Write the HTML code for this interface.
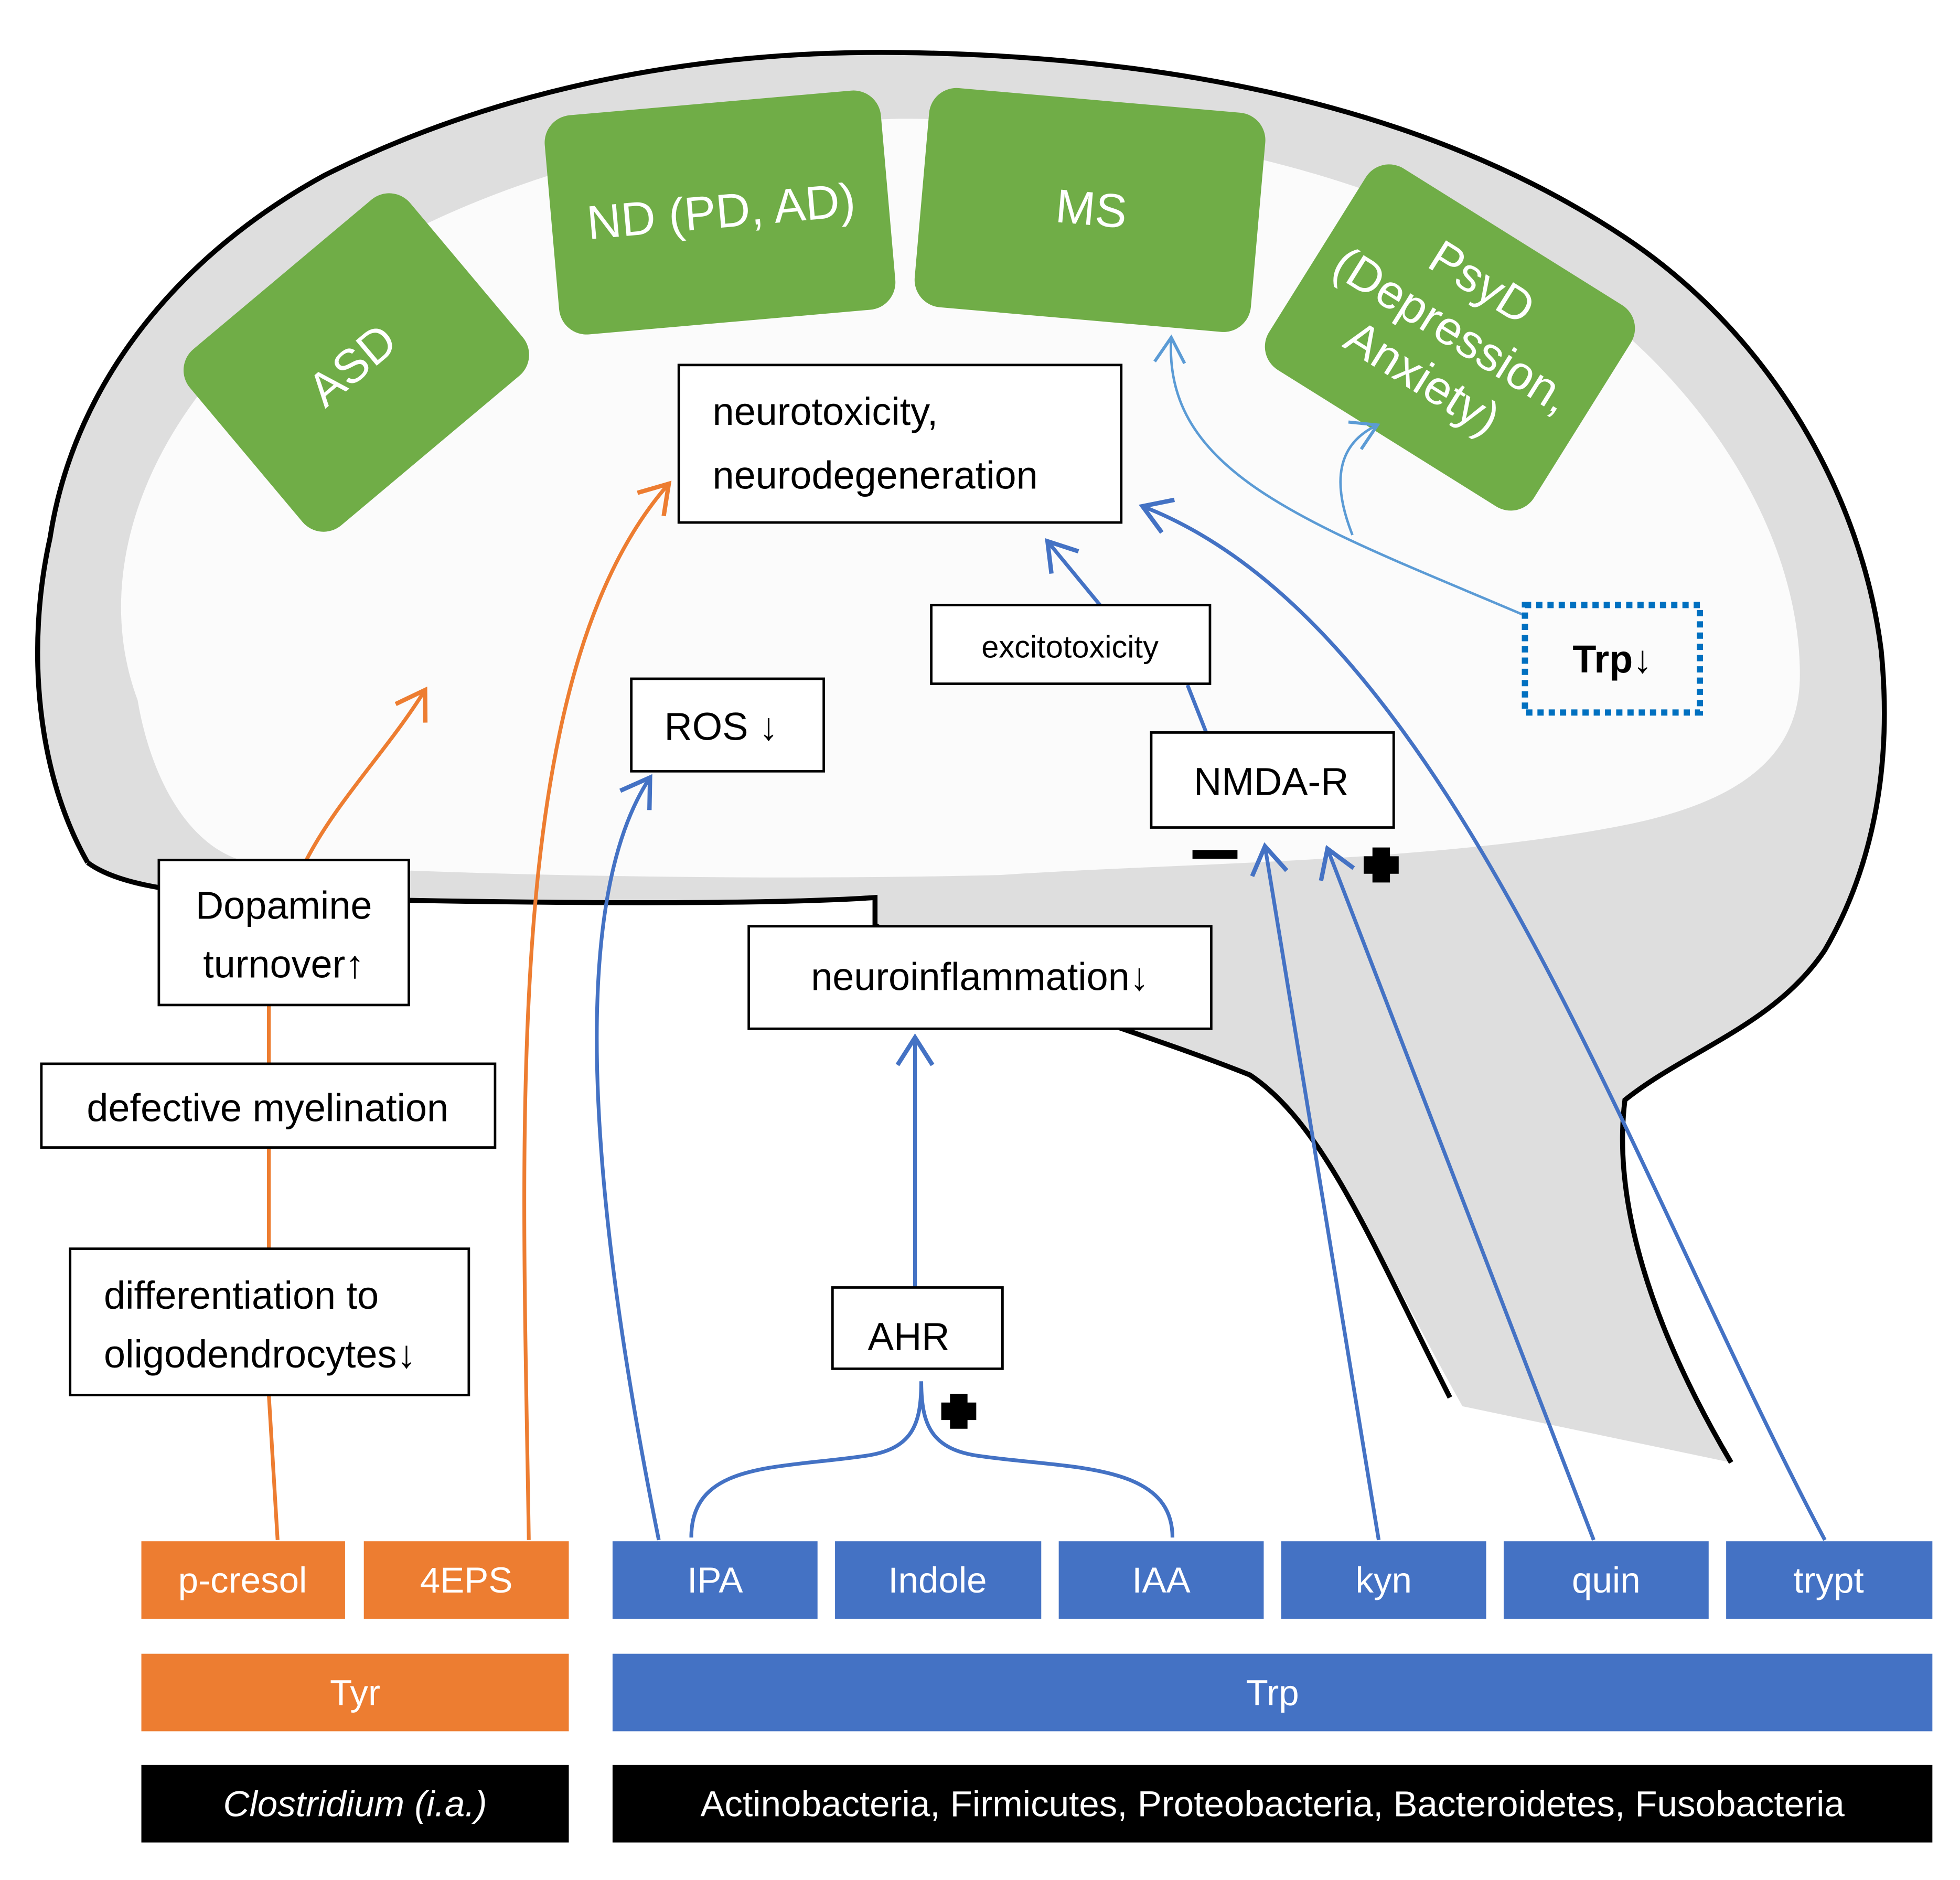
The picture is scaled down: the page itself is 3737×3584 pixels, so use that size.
<!DOCTYPE html>
<html><head><meta charset="utf-8"><style>
html,body{margin:0;padding:0;background:#fff;}
svg{display:block;}
text{font-family:"Liberation Sans",sans-serif;}
</style></head><body>
<svg width="3737" height="3584" viewBox="0 0 1568 1504" xmlns="http://www.w3.org/2000/svg">
<defs>
<marker id="ao" markerWidth="10" markerHeight="10" refX="8" refY="5" orient="auto" markerUnits="userSpaceOnUse" viewBox="0 0 10 10" overflow="visible"><polyline points="-14,-9 8,5 -14,19" transform="translate(0,0) scale(1)" fill="none" stroke="#ed7d31" stroke-width="3.5" stroke-linejoin="miter"/></marker>
<marker id="ab" markerWidth="10" markerHeight="10" refX="8" refY="5" orient="auto" markerUnits="userSpaceOnUse" viewBox="0 0 10 10" overflow="visible"><polyline points="-14,-9 8,5 -14,19" fill="none" stroke="#4472c4" stroke-width="3.5"/></marker>
<marker id="al" markerWidth="10" markerHeight="10" refX="8" refY="5" orient="auto" markerUnits="userSpaceOnUse" viewBox="0 0 10 10" overflow="visible"><polyline points="-12,-7 8,5 -12,17" fill="none" stroke="#5b9bd5" stroke-width="2.5"/></marker>
</defs>
<rect width="1568" height="1504" fill="#fff"/>
<!-- brain -->
<path d="M70,690 C30,620 20,520 40,430 C60,300 150,200 260,140 C400,70 560,40 720,42 C950,45 1150,90 1300,190 C1420,270 1490,400 1505,520 C1515,620 1495,700 1460,760 C1420,820 1350,840 1300,880 C1290,960 1320,1060 1385,1170 L1170,1125 C1100,1000 1060,900 1000,860 C900,820 780,790 700,740 L700,718 C600,725 350,722 200,717 C130,714 90,705 70,690 Z" fill="#dedede"/>
<path d="M110,560 C80,480 100,380 180,290 C300,170 500,100 720,95 C950,95 1150,150 1280,250 C1380,330 1440,440 1440,540 C1440,600 1400,640 1300,660 C1150,690 950,690 800,700 C600,705 350,700 200,690 C150,680 120,620 110,560 Z" fill="#fbfbfb"/>
<path d="M70,690 C30,620 20,520 40,430 C60,300 150,200 260,140 C400,70 560,40 720,42 C950,45 1150,90 1300,190 C1420,270 1490,400 1505,520 C1515,620 1495,700 1460,760 C1420,820 1350,840 1300,880 C1290,960 1320,1060 1385,1170" fill="none" stroke="#000" stroke-width="4"/>
<path d="M1160,1118 C1100,1000 1060,900 1000,860 C900,820 780,790 700,740 L700,718 C600,725 350,722 200,717 C130,714 90,705 70,690" fill="none" stroke="#000" stroke-width="4"/>
<!-- green boxes -->
<g fill="#70ad47">
<rect x="-115" y="-92" width="230" height="184" rx="22" transform="translate(285,290) rotate(-40)"/>
<rect x="-135" y="-88" width="270" height="176" rx="22" transform="translate(576,170) rotate(-5)"/>
<rect x="-135" y="-88" width="270" height="176" rx="22" transform="translate(872,168) rotate(5)"/>
<rect x="-125" y="-95" width="250" height="190" rx="22" transform="translate(1160,270) rotate(32)"/>
</g>
<g fill="#fff" font-size="38" text-anchor="middle">
<text transform="translate(290,302) rotate(-40)">ASD</text>
<text transform="translate(578,182) rotate(-5)">ND (PD, AD)</text>
<text transform="translate(872,180) rotate(5)">MS</text>
<g transform="translate(1155,275) rotate(32)"><text y="-45">PsyD</text><text y="0">(Depression,</text><text y="45">Anxiety)</text></g>
</g>
<!-- arrows -->
<g fill="none" stroke-width="3">
<path d="M222,1232 L215,1116 M215,999 L215,918 M215,851 L215,804" stroke="#ed7d31"/>
<path d="M245,688 C270,640 310,600 340,552" stroke="#ed7d31" marker-end="url(#ao)"/>
<path d="M423,1232 C418,900 400,540 535,387" stroke="#ed7d31" marker-end="url(#ao)"/>
<path d="M527,1232 C470,950 455,720 520,622" stroke="#4472c4" marker-end="url(#ab)"/>
<path d="M553,1230 C553,1170 620,1175 690,1165 C730,1160 737,1140 737,1105 C737,1140 745,1160 785,1165 C855,1175 938,1170 938,1230" stroke="#4472c4"/>
<path d="M732,1030 L732,830" stroke="#4472c4" marker-end="url(#ab)"/>
<path d="M1103,1232 L1012,677" stroke="#4472c4" marker-end="url(#ab)"/>
<path d="M1275,1232 L1062,679" stroke="#4472c4" marker-end="url(#ab)"/>
<path d="M1460,1232 C1300,930 1160,500 914,405" stroke="#4472c4" marker-end="url(#ab)"/>
<path d="M965,586 L950,548" stroke="#4472c4"/>
<path d="M880,484 L838,433" stroke="#4472c4" marker-end="url(#ab)"/>
<path d="M1219,492 C1050,420 930,380 937,270" stroke="#5b9bd5" stroke-width="2" marker-end="url(#al)"/>
<path d="M1082,428 C1065,385 1070,355 1102,340" stroke="#5b9bd5" stroke-width="2" marker-end="url(#al)"/>
</g>
<path d="M760,1115 h14 v7 h7 v14 h-7 v7 h-14 v-7 h-7 v-14 h7z" fill="#000"/>
<path d="M1098,678 h14 v7 h7 v14 h-7 v7 h-14 v-7 h-7 v-14 h7z" fill="#000"/>
<rect x="954" y="680" width="36" height="7" fill="#000"/>
<!-- white boxes -->
<g fill="#fff" stroke="#000" stroke-width="2">
<rect x="543" y="292" width="354" height="126"/>
<rect x="745" y="484" width="223" height="63"/>
<rect x="505" y="543" width="154" height="74"/>
<rect x="921" y="586" width="194" height="76"/>
<rect x="127" y="688" width="200" height="116"/>
<rect x="33" y="851" width="363" height="67"/>
<rect x="599" y="741" width="370" height="82"/>
<rect x="56" y="999" width="319" height="117"/>
<rect x="666" y="1030" width="136" height="65"/>
</g>
<rect x="1220" y="484" width="140" height="86" fill="none" stroke="#0070c0" stroke-width="5" stroke-dasharray="5,4"/>
<g font-size="31" fill="#000">
<text x="570" y="340">neurotoxicity,</text>
<text x="570" y="391">neurodegeneration</text>
<text x="856" y="526" font-size="25" text-anchor="middle">excitotoxicity</text>
<text x="577" y="592" text-anchor="middle">ROS ↓</text>
<text x="1017" y="636" text-anchor="middle">NMDA-R</text>
<text x="1290" y="538" text-anchor="middle" font-weight="bold">Trp↓</text>
<text x="227" y="735" text-anchor="middle">Dopamine</text>
<text x="227" y="782" text-anchor="middle">turnover↑</text>
<text x="214" y="897" text-anchor="middle">defective myelination</text>
<text x="784" y="792" text-anchor="middle">neuroinflammation↓</text>
<text x="83" y="1047">differentiation to</text>
<text x="83" y="1094">oligodendrocytes↓</text>
<text x="727" y="1080" text-anchor="middle">AHR</text>
</g>
<!-- bottom bars -->
<g fill="#ed7d31"><rect x="113" y="1233" width="163" height="62"/><rect x="291" y="1233" width="164" height="62"/><rect x="113" y="1323" width="342" height="62"/></g>
<g fill="#4472c4">
<rect x="490" y="1233" width="164" height="62"/><rect x="668" y="1233" width="165" height="62"/><rect x="847" y="1233" width="164" height="62"/><rect x="1025" y="1233" width="164" height="62"/><rect x="1203" y="1233" width="164" height="62"/><rect x="1381" y="1233" width="165" height="62"/>
<rect x="490" y="1323" width="1056" height="62"/></g>
<rect x="113" y="1412" width="342" height="62" fill="#000"/>
<rect x="490" y="1412" width="1056" height="62" fill="#000"/>
<g fill="#fff" font-size="29" text-anchor="middle">
<text x="194" y="1274">p-cresol</text><text x="373" y="1274">4EPS</text>
<text x="572" y="1274">IPA</text><text x="750" y="1274">Indole</text><text x="929" y="1274">IAA</text>
<text x="1107" y="1274">kyn</text><text x="1285" y="1274">quin</text><text x="1463" y="1274">trypt</text>
<text x="284" y="1364">Tyr</text><text x="1018" y="1364">Trp</text>
<text x="284" y="1453" font-style="italic">Clostridium (i.a.)</text>
<text x="1018" y="1453">Actinobacteria, Firmicutes, Proteobacteria, Bacteroidetes, Fusobacteria</text>
</g>
</svg>
</body></html>
